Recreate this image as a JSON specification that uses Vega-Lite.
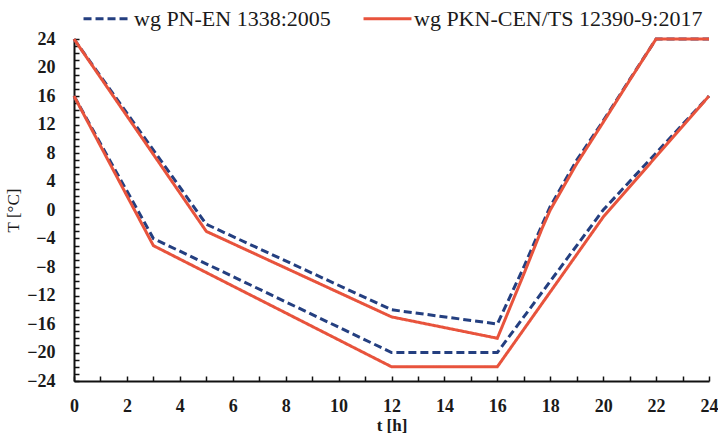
{
  "$schema": "https://vega.github.io/schema/vega-lite/v6.json",
  "autosize": "none",
  "width": 635,
  "height": 342,
  "padding": {"left": 74, "top": 39, "right": 9, "bottom": 53},
  "background": "white",
  "config": {
    "view": {"stroke": null},
    "font": "Liberation Serif",
    "axis": {
      "labelFont": "Liberation Serif",
      "titleFont": "Liberation Serif",
      "labelColor": "#1a1a1a",
      "titleColor": "#1a1a1a",
      "labelFontSize": 18,
      "labelFontWeight": "bold",
      "titleFontSize": 17,
      "titleFontWeight": "bold",
      "domainColor": "#111",
      "domainWidth": 2,
      "tickColor": "#111",
      "tickWidth": 1.5,
      "gridColor": "#d4d4d4",
      "gridWidth": 1
    }
  },
  "data": {
    "values": [
      {"t": 0, "T": 24, "series": "wg PN-EN 1338:2005", "curve": "upper"},
      {"t": 5, "T": -2, "series": "wg PN-EN 1338:2005", "curve": "upper"},
      {"t": 12, "T": -14, "series": "wg PN-EN 1338:2005", "curve": "upper"},
      {"t": 16, "T": -16, "series": "wg PN-EN 1338:2005", "curve": "upper"},
      {"t": 17, "T": -8, "series": "wg PN-EN 1338:2005", "curve": "upper"},
      {"t": 17.7, "T": -2, "series": "wg PN-EN 1338:2005", "curve": "upper"},
      {"t": 18, "T": 0.5, "series": "wg PN-EN 1338:2005", "curve": "upper"},
      {"t": 19, "T": 7, "series": "wg PN-EN 1338:2005", "curve": "upper"},
      {"t": 20, "T": 12.5, "series": "wg PN-EN 1338:2005", "curve": "upper"},
      {"t": 21, "T": 18.3, "series": "wg PN-EN 1338:2005", "curve": "upper"},
      {"t": 22, "T": 24, "series": "wg PN-EN 1338:2005", "curve": "upper"},
      {"t": 24, "T": 24, "series": "wg PN-EN 1338:2005", "curve": "upper"},
      {"t": 0, "T": 16, "series": "wg PN-EN 1338:2005", "curve": "lower"},
      {"t": 3, "T": -4, "series": "wg PN-EN 1338:2005", "curve": "lower"},
      {"t": 12, "T": -20, "series": "wg PN-EN 1338:2005", "curve": "lower"},
      {"t": 16, "T": -20, "series": "wg PN-EN 1338:2005", "curve": "lower"},
      {"t": 18, "T": -10, "series": "wg PN-EN 1338:2005", "curve": "lower"},
      {"t": 20, "T": 0, "series": "wg PN-EN 1338:2005", "curve": "lower"},
      {"t": 22, "T": 8, "series": "wg PN-EN 1338:2005", "curve": "lower"},
      {"t": 24, "T": 16, "series": "wg PN-EN 1338:2005", "curve": "lower"},
      {"t": 0, "T": 24, "series": "wg PKN-CEN/TS 12390-9:2017", "curve": "upper"},
      {"t": 5, "T": -3, "series": "wg PKN-CEN/TS 12390-9:2017", "curve": "upper"},
      {"t": 12, "T": -15, "series": "wg PKN-CEN/TS 12390-9:2017", "curve": "upper"},
      {"t": 16, "T": -18, "series": "wg PKN-CEN/TS 12390-9:2017", "curve": "upper"},
      {"t": 17, "T": -9, "series": "wg PKN-CEN/TS 12390-9:2017", "curve": "upper"},
      {"t": 17.7, "T": -2.5, "series": "wg PKN-CEN/TS 12390-9:2017", "curve": "upper"},
      {"t": 18, "T": 0, "series": "wg PKN-CEN/TS 12390-9:2017", "curve": "upper"},
      {"t": 19, "T": 6.5, "series": "wg PKN-CEN/TS 12390-9:2017", "curve": "upper"},
      {"t": 20, "T": 12.3, "series": "wg PKN-CEN/TS 12390-9:2017", "curve": "upper"},
      {"t": 21, "T": 18.2, "series": "wg PKN-CEN/TS 12390-9:2017", "curve": "upper"},
      {"t": 22, "T": 24, "series": "wg PKN-CEN/TS 12390-9:2017", "curve": "upper"},
      {"t": 24, "T": 24, "series": "wg PKN-CEN/TS 12390-9:2017", "curve": "upper"},
      {"t": 0, "T": 16, "series": "wg PKN-CEN/TS 12390-9:2017", "curve": "lower"},
      {"t": 3, "T": -5, "series": "wg PKN-CEN/TS 12390-9:2017", "curve": "lower"},
      {"t": 12, "T": -22, "series": "wg PKN-CEN/TS 12390-9:2017", "curve": "lower"},
      {"t": 16, "T": -22, "series": "wg PKN-CEN/TS 12390-9:2017", "curve": "lower"},
      {"t": 18, "T": -11.5, "series": "wg PKN-CEN/TS 12390-9:2017", "curve": "lower"},
      {"t": 20, "T": -1, "series": "wg PKN-CEN/TS 12390-9:2017", "curve": "lower"},
      {"t": 22, "T": 7.5, "series": "wg PKN-CEN/TS 12390-9:2017", "curve": "lower"},
      {"t": 24, "T": 16, "series": "wg PKN-CEN/TS 12390-9:2017", "curve": "lower"}
    ]
  },
  "resolve": {"axis": {"x": "independent", "y": "independent"}},
  "layer": [
    {
      "mark": {"type": "line", "strokeOpacity": 0},
      "encoding": {
        "x": {
          "field": "t",
          "type": "quantitative",
          "scale": {"domain": [0, 24], "nice": false, "zero": false},
          "axis": {
            "orient": "bottom",
            "title": null,
            "values": [0,1,2,3,4,5,6,7,8,9,10,11,12,13,14,15,16,17,18,19,20,21,22,23,24],
            "labels": false,
            "grid": false,
            "domain": false,
            "offset": -5,
            "tickSize": 5
          }
        },
        "y": {
          "field": "T",
          "type": "quantitative",
          "scale": {"domain": [-24, 24], "nice": false, "zero": false},
          "axis": {
            "orient": "left",
            "title": null,
            "values": [-24,-23,-22,-21,-20,-19,-18,-17,-16,-15,-14,-13,-12,-11,-10,-9,-8,-7,-6,-5,-4,-3,-2,-1,0,1,2,3,4,5,6,7,8,9,10,11,12,13,14,15,16,17,18,19,20,21,22,23,24],
            "labels": false,
            "grid": false,
            "domain": false,
            "offset": -5,
            "tickSize": 5
          }
        },
        "detail": {"field": "series", "type": "nominal"},
        "order": {"field": "t", "type": "quantitative"}
      }
    },
    {
      "mark": {"type": "line", "strokeWidth": 3, "clip": false},
      "encoding": {
        "x": {
          "field": "t",
          "type": "quantitative",
          "scale": {"domain": [0, 24], "nice": false, "zero": false},
          "axis": {
            "orient": "bottom",
            "title": "t [h]",
            "values": [0,2,4,6,8,10,12,14,16,18,20,22,24],
            "labelFont": "Liberation Serif",
            "titleFont": "Liberation Serif",
            "ticks": false,
            "labelPadding": 16,
            "labelFlush": false,
            "labelOverlap": false,
            "titlePadding": 2
          }
        },
        "y": {
          "field": "T",
          "type": "quantitative",
          "scale": {"domain": [-24, 24], "nice": false, "zero": false},
          "axis": {
            "orient": "left",
            "title": "T [°C]",
            "values": [-24,-20,-16,-12,-8,-4,0,4,8,12,16,20,24],
            "labelFont": "Liberation Serif",
            "titleFont": "Liberation Serif",
            "titleFontWeight": "normal",
            "ticks": false,
            "labelPadding": 19,
            "labelFlush": false,
            "labelOverlap": false,
            "titlePadding": 4
          }
        },
        "color": {
          "field": "series",
          "type": "nominal",
          "scale": {
            "domain": ["wg PN-EN 1338:2005", "wg PKN-CEN/TS 12390-9:2017"],
            "range": ["#243f80", "#e8533c"]
          },
          "legend": {
            "title": null,
            "orient": "none",
            "direction": "horizontal",
            "legendX": 8,
            "legendY": -46,
            "padding": 0,
            "symbolType": "stroke",
            "symbolSize": 2300,
            "symbolStrokeWidth": 3,
            "labelFont": "Liberation Serif",
            "labelFontSize": 22,
            "labelColor": "#1a1a1a",
            "labelOffset": 1,
            "labelLimit": 400,
            "columnPadding": 26
          }
        },
        "strokeDash": {
          "field": "series",
          "type": "nominal",
          "scale": {
            "domain": ["wg PN-EN 1338:2005", "wg PKN-CEN/TS 12390-9:2017"],
            "range": [[8, 4], [1, 0]]
          },
          "legend": null
        },
        "detail": {"field": "curve", "type": "nominal"},
        "order": {"field": "t", "type": "quantitative"}
      }
    }
  ]
}
